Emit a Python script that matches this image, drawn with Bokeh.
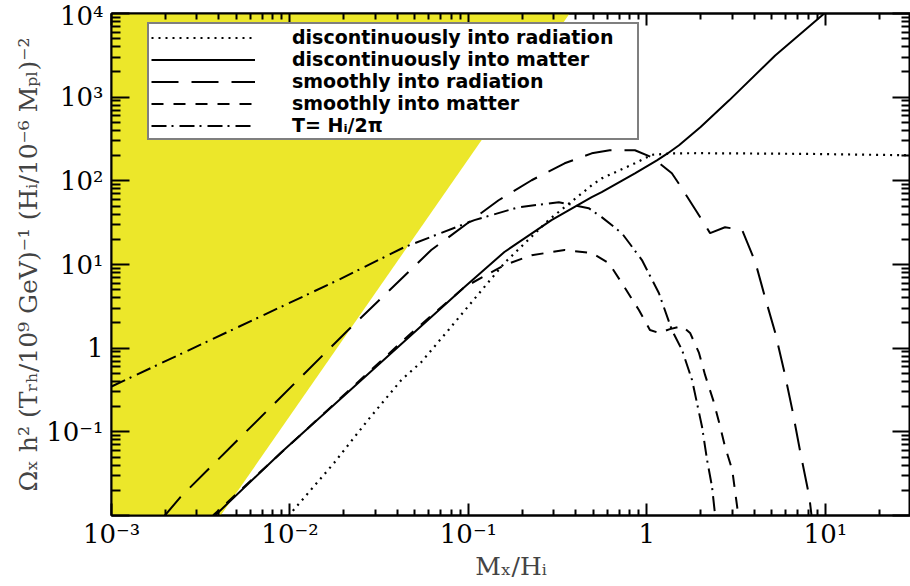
from bokeh.plotting import figure
from bokeh.models import (LogAxis, FixedTicker, Legend, LegendItem, Range1d)
from bokeh.embed import file_html
from bokeh.resources import INLINE

# ---------------- data ----------------
# excluded (yellow) region boundary
region_x = [1e-3, 0.00409, 0.369, 1e-3]
region_y = [1e-2, 1e-2, 1e4, 1e4]

# discontinuously into radiation (dotted)
disc_rad_x = [0.0098, 0.0105, 0.0177, 0.0274, 0.0421, 0.0545, 0.0773, 0.159, 0.281,
              0.491, 0.558, 0.857, 1.07, 1.4, 2.0, 4.0, 8.0, 15.0, 30.0]
disc_rad_y = [0.0098, 0.0117, 0.0427, 0.139, 0.417, 0.684, 1.65, 10.4, 33.9,
              88.5, 107, 162, 205, 213, 214, 212, 210, 206, 202]

# discontinuously into matter (solid)
disc_mat_x = [0.00375, 0.00384, 0.00889, 0.0951, 0.159, 0.292, 0.491, 0.558, 0.857,
              1.138, 1.3, 1.514, 2.0, 2.891, 5.236, 9.86, 11.0]
disc_mat_y = [0.0097, 0.0102, 0.0562, 5.37, 14.1, 33.9, 63.7, 73.1, 123,
              176, 211, 266, 440, 916, 3155, 10000, 12300]

# smoothly into radiation (long dash)
smooth_rad_x = [0.00195, 0.00244, 0.0212, 0.0619, 0.1476, 0.226, 0.346, 0.491, 0.619,
                0.857, 1.067, 1.380, 1.531, 1.910, 2.26, 2.74, 3.42, 4.05, 4.6, 5.24,
                5.89, 6.53, 7.25, 8.13, 8.5]
smooth_rad_y = [0.0095, 0.0167, 1.65, 14.9, 58.6, 101.6, 162, 213, 232,
                232, 191, 123, 88.5, 42.2, 23.7, 27.9, 25.8, 10.7, 4.0, 1.52,
                0.52, 0.183, 0.0561, 0.0168, 0.0075]

# smoothly into matter (dashed)
smooth_mat_x = [0.0036, 0.00374, 0.0479, 0.0951, 0.159, 0.226, 0.346, 0.491, 0.612,
                0.724, 0.902, 1.04, 1.167, 1.346, 1.574, 1.746, 1.959, 2.118, 2.35,
                2.535, 2.742, 3.006, 3.206, 3.24, 3.3]
smooth_mat_y = [0.0092, 0.0102, 1.52, 5.37, 9.84, 12.9, 14.9, 13.7, 10.4,
                6.0, 2.86, 1.65, 1.52, 1.69, 1.84, 1.52, 0.877, 0.479, 0.241,
                0.1315, 0.0662, 0.0352, 0.0127, 0.0102, 0.008]

# T = H_i / 2pi (dash-dot)
thermal_x = [0.001, 0.01862, 0.0437, 0.108, 0.191, 0.321, 0.472, 0.558, 0.724, 0.938,
             1.167, 1.380, 1.574, 1.791, 2.037, 2.173, 2.317, 2.41, 2.45]
thermal_y = [0.348, 6.52, 16.1, 33.9, 48.4, 55.6, 47.1, 36.8, 23.7, 11.3,
             4.56, 1.65, 0.95, 0.417, 0.115, 0.0463, 0.0221, 0.0102, 0.008]

legend_labels = ["discontinuously into radiation", "discontinuously into matter",
                 "smoothly into radiation", "smoothly into matter", "T= Hᵢ/2π"]

x_major = [1e-3, 1e-2, 1e-1, 1.0, 10.0]
x_labels = ["10⁻³", "10⁻²", "10⁻¹", "1", "10¹"]
y_major = [1e-2, 1e-1, 1.0, 10.0, 100.0, 1000.0, 10000.0]
y_labels = ["", "10⁻¹", "1", "10¹", "10²", "10³", "10⁴"]

x_minor = [m * 10.0 ** e for e in range(-3, 2) for m in range(2, 10) if m * 10.0 ** e <= 30]
y_minor = [m * 10.0 ** e for e in range(-2, 4) for m in range(2, 10)]

# ---------------- figure ----------------
p = figure(width=910, height=586, x_axis_type="log", y_axis_type="log",
           x_range=Range1d(1e-3, 30), y_range=Range1d(1e-2, 1e4),
           output_backend="svg", toolbar_location=None,
           min_border_left=111, min_border_right=0, min_border_top=13,
           min_border_bottom=71)
p.xgrid.visible = False
p.ygrid.visible = False
p.background_fill_color = "white"
p.border_fill_color = "white"
p.outline_line_color = "black"
p.outline_line_width = 2

p.patch(region_x, region_y, fill_color="#ECE72A", line_color=None)

r1 = p.line(disc_rad_x, disc_rad_y, line_color="black", line_width=2.2, line_dash="2 5")
r2 = p.line(disc_mat_x, disc_mat_y, line_color="black", line_width=2)
r3 = p.line(smooth_rad_x, smooth_rad_y, line_color="black", line_width=2, line_dash="27 13")
r4 = p.line(smooth_mat_x, smooth_mat_y, line_color="black", line_width=2, line_dash="12 10")
r5 = p.line(thermal_x, thermal_y, line_color="black", line_width=2, line_dash="15 5 2 6")

tick_font = "DejaVu Serif"


def style_axis(ax, ticks, labels, minor, major_in, minor_in, show_labels=True):
    ax.ticker = FixedTicker(ticks=ticks, minor_ticks=minor)
    ax.major_tick_in = major_in
    ax.major_tick_out = 0
    ax.minor_tick_in = minor_in
    ax.minor_tick_out = 0
    ax.major_tick_line_width = 2
    ax.minor_tick_line_width = 2
    ax.axis_line_width = 2
    ax.axis_line_color = "black"
    ax.major_tick_line_color = "black"
    ax.minor_tick_line_color = "black"
    if show_labels:
        ax.major_label_overrides = {t: l for t, l in zip(ticks, labels)}
        ax.major_label_text_font = tick_font
        ax.major_label_text_font_size = "26px"
        ax.major_label_text_color = "black"
    else:
        ax.major_label_overrides = {t: "" for t in ticks}
        ax.major_label_text_font_size = "0px"
        ax.major_label_standoff = 0
        ax.axis_label_standoff = 0


xa = p.xaxis[0]
style_axis(xa, x_major, x_labels, x_minor, 12, 6)
xa.major_label_standoff = 3
xa.axis_label = "Mₓ/Hᵢ"
xa.axis_label_text_font = tick_font
xa.axis_label_text_font_style = "normal"
xa.axis_label_text_font_size = "25px"
xa.axis_label_standoff = 0

ya = p.yaxis[0]
style_axis(ya, y_major, y_labels, y_minor, 18, 9)
ya.major_label_standoff = 8
ya.axis_label = "Ωₓ h² (Tᵣₕ/10⁹ GeV)⁻¹ (Hᵢ/10⁻⁶ Mₚₗ)⁻²"
ya.axis_label_text_font = tick_font
ya.axis_label_text_font_style = "normal"
ya.axis_label_text_font_size = "25px"
ya.axis_label_standoff = 0

top = LogAxis()
style_axis(top, x_major, x_labels, x_minor, 12, 6, show_labels=False)
p.add_layout(top, "above")
right = LogAxis()
style_axis(right, y_major, y_labels, y_minor, 18, 9, show_labels=False)
p.add_layout(right, "right")

legend = Legend(items=[LegendItem(label=l, renderers=[r]) for l, r in
                       zip(legend_labels, [r1, r2, r3, r4, r5])],
                location=(36, 375))
legend.border_line_color = "black"
legend.border_line_width = 2
legend.background_fill_color = "white"
legend.background_fill_alpha = 1
legend.label_text_font = "DejaVu Sans"
legend.label_text_font_style = "bold"
legend.label_text_font_size = "19px"
legend.label_text_color = "black"
legend.glyph_width = 104
legend.glyph_height = 21
legend.label_height = 21
legend.label_width = 343
legend.spacing = 0
legend.padding = 2
legend.margin = 0
legend.label_standoff = 37
p.add_layout(legend, "center")

open("out.html", "w").write(file_html(p, INLINE))
